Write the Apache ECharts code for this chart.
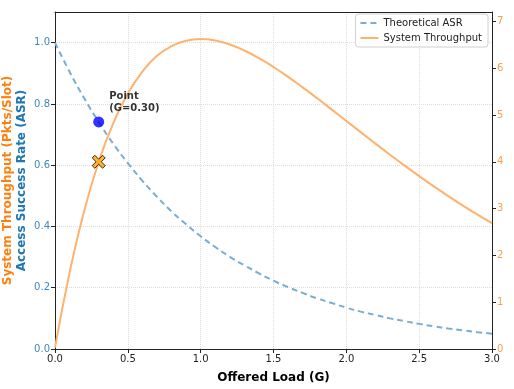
<!DOCTYPE html>
<html><head><meta charset="utf-8">
<script src="https://cdn.jsdelivr.net/npm/echarts@6/dist/echarts.min.js"></script>
<style>html,body{margin:0;padding:0;background:#fff}#c{width:514px;height:389px}</style>
</head><body><div id="c"></div>
<script>
const loads = [0.0,0.1,0.2,0.3,0.4,0.5,0.6,0.7,0.8,0.9,1.0,1.1,1.2,1.3,1.4,1.5,1.6,1.7,1.8,1.9,2.0,2.1,2.2,2.3,2.4,2.5,2.6,2.7,2.8,2.9,3.0];
const asr = [1.000,0.905,0.819,0.741,0.670,0.607,0.549,0.497,0.449,0.407,0.368,0.333,0.301,0.273,0.247,0.223,0.202,0.183,0.165,0.150,0.135,0.122,0.111,0.100,0.091,0.082,0.074,0.067,0.061,0.055,0.050];
const throughput = [0.03,1.629,2.948,4.000,4.826,5.459,5.927,6.263,6.470,6.587,6.622,6.591,6.506,6.377,6.214,6.025,5.815,5.590,5.356,5.115,4.872,4.629,4.388,4.151,3.919,3.694,3.476,3.266,3.065,2.872,2.689];
const pointG = 0.30, pointASR = 0.741, pointThr = 4.00;
const xTicks = [0.0,0.5,1.0,1.5,2.0,2.5,3.0];

const font = 'DejaVu Sans';
const chart = echarts.init(document.getElementById('c'), null, {renderer:'canvas'});
chart.setOption({
  animation:false,
  textStyle:{fontFamily:font},
  grid:{left:55,right:22,top:12,bottom:40,containLabel:false,outerBoundsMode:'none',show:false},
  legend:{
    orient:'vertical', right:26, top:14, itemWidth:18, itemHeight:11, itemGap:5,
    padding:[4,6,4,4], borderColor:'#d0d0d0', borderWidth:1, borderRadius:3, backgroundColor:'rgba(255,255,255,0.8)',
    textStyle:{fontFamily:font,fontSize:10,color:'#222'},
    itemStyle:{opacity:0},
    data:['Theoretical ASR','System Throughput']
  },
  xAxis:[{
    type:'value', min:0, max:3, interval:0.5,
    name:'Offered Load (G)', nameLocation:'middle', nameGap:23,
    nameTextStyle:{fontFamily:font,fontSize:12,fontWeight:'bold',color:'#000'},
    axisLine:{show:true,onZero:false,lineStyle:{color:'#222'}},
    axisTick:{show:true,inside:false,length:4,lineStyle:{color:'#222'}},
    axisLabel:{fontFamily:font,fontSize:10,color:'#222',margin:5,formatter:v=>v.toFixed(1)},
    splitLine:{show:true,showMinLine:false,showMaxLine:false,lineStyle:{color:'#ddd',type:'dotted'}}
  },{
    type:'value', min:0, max:3, position:'top',
    axisLine:{show:true,onZero:false,lineStyle:{color:'#222'}},
    axisTick:{show:false}, axisLabel:{show:false}, splitLine:{show:false}
  }],
  yAxis:[{
    type:'value', min:0, max:1.1, interval:0.2, position:'left',
    name:'{o|System Throughput (Pkts/Slot)}\n{b|Access Success Rate (ASR)}',
    nameLocation:'middle', nameGap:26, nameRotate:90, nameMoveOverlap:false,
    nameTextStyle:{fontFamily:font,fontSize:12,fontWeight:'bold',lineHeight:14,
      rich:{o:{color:'#ff7f0e',fontFamily:font,fontSize:12,fontWeight:'bold',lineHeight:14},
            b:{color:'#1f77b4',fontFamily:font,fontSize:12,fontWeight:'bold',lineHeight:14}}},
    axisLine:{show:true,onZero:false,lineStyle:{color:'#222'}},
    axisTick:{show:true,length:4,lineStyle:{color:'#222'}},
    axisLabel:{fontFamily:font,fontSize:10,color:'#3d87bd',margin:5,showMaxLabel:false,formatter:v=>v.toFixed(1)},
    splitLine:{show:true,showMinLine:false,showMaxLine:false,lineStyle:{color:'#ddd',type:'dotted'}}
  },{
    type:'value', min:0, max:7.2, interval:1, position:'right',
    axisLine:{show:true,onZero:false,lineStyle:{color:'#222'}},
    axisTick:{show:true,length:4,lineStyle:{color:'#222'}},
    axisLabel:{fontFamily:font,fontSize:10,color:'#f2a052',margin:5,showMaxLabel:false},
    splitLine:{show:false}
  }],
  series:[{
    name:'Theoretical ASR', type:'line', yAxisIndex:0, smooth:true, symbol:'none',
    data:loads.map((g,i)=>[g,asr[i]]),
    lineStyle:{color:'#79add2',width:2,type:[6,4]}, itemStyle:{color:'#79add2'}, z:3
  },{
    name:'System Throughput', type:'line', yAxisIndex:1, smooth:true, symbol:'none',
    data:loads.map((g,i)=>[g,throughput[i]]),
    lineStyle:{color:'#ffb26e',width:2}, itemStyle:{color:'#ffb26e'}, z:3
  },{
    name:'pointASR', type:'scatter', yAxisIndex:0, symbol:'circle', symbolSize:11,
    data:[[pointG,pointASR]], itemStyle:{color:'#0000ff'}, z:5,
    label:{show:true,position:'right',offset:[0,-20],align:'left',
      formatter:'Point\n(G=0.30)',fontFamily:font,fontSize:10,fontWeight:'bold',color:'#000',lineHeight:12}
  },{
    name:'pointThr', type:'scatter', yAxisIndex:1,
    symbol:'path://M2,0 L5,3 L8,0 L10,2 L7,5 L10,8 L8,10 L5,7 L2,10 L0,8 L3,5 L0,2 Z', symbolSize:13,
    data:[[pointG,pointThr]], itemStyle:{color:'#ffa500',borderColor:'#000',borderWidth:1}, z:5
  }]
});
</script></body></html>
